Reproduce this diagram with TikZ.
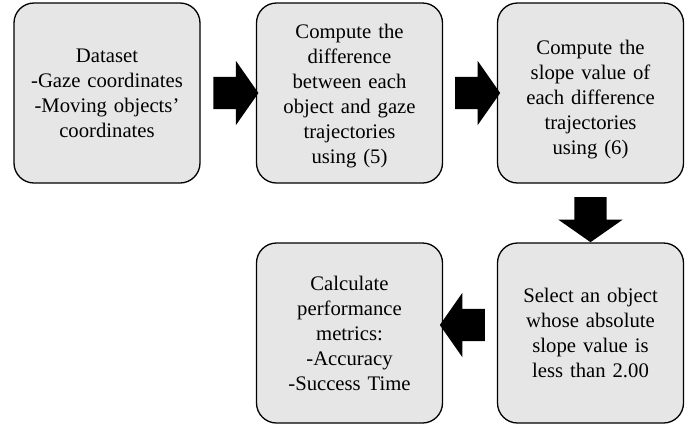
\documentclass[tikz,border=0pt]{standalone}
\usepackage{fontspec}
\setmainfont{Liberation Serif}
\usetikzlibrary{shapes.arrows,calc}
\definecolor{boxgray}{HTML}{E6E6E6}
\begin{document}
\begin{tikzpicture}[x=1pt,y=-1pt,
  stepbox/.style={draw,line width=1.3pt,fill=boxgray,rounded corners=20pt,
    minimum width=186pt,minimum height=180pt,text width=176pt,inner sep=0pt,
    align=center,font=\fontsize{20.7}{25}\selectfont},
  bigarrow/.style={single arrow,fill=black,draw=none,inner xsep=0pt,inner ysep=16pt,
    minimum height=45pt,minimum width=64pt,single arrow head extend=16pt,
    single arrow tip angle=110}]
\useasboundingbox (0,0) rectangle (697,432);
\node[stepbox] (data) at (107,93) {Dataset\\-Gaze coordinates\\-Moving objects’\\coordinates};
\node[stepbox] (diff) at (349.5,93) {\rule{0pt}{20.5pt}Compute the\\difference\\between each\\object and gaze\\trajectories\\using (5)};
\node[stepbox] (slope) at (590.5,93) {\rule{0pt}{26.5pt}Compute the\\slope value of\\each difference\\trajectories\\using (6)};
\node[stepbox] (select) at (590.5,333) {Select an object\\whose absolute\\slope value is\\less than 2.00};
\node[stepbox] (metrics) at (349.5,333) {Calculate\\performance\\metrics:\\-Accuracy\\-Success Time};
% block arrows between the steps
\node[bigarrow] (a1) at ($(data.east)!0.5!(diff.west)+(2,0)$) {};
\node[bigarrow] (a2) at ($(diff.east)!0.5!(slope.west)+(2,0)$) {};
\node[bigarrow,rotate=-90] (a3) at ($(slope.south)!0.5!(select.north)+(0,1)$) {};
\node[bigarrow,rotate=180] (a4) at ($(select.west)!0.5!(metrics.east)+(-2,-8)$) {};
\end{tikzpicture}
\end{document}
